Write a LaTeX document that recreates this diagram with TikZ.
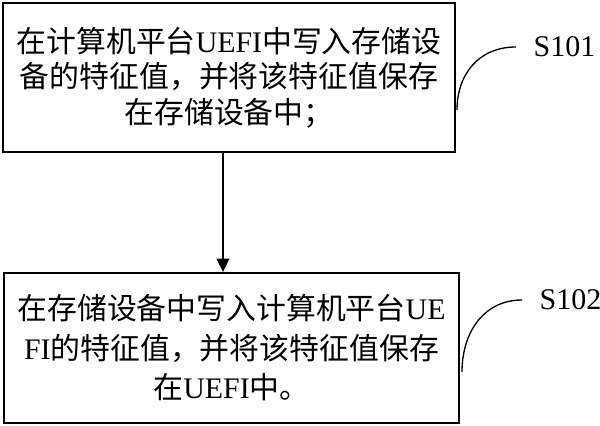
\documentclass[tikz,border=0pt]{standalone}
\usepackage{fontspec}
\setmainfont{Liberation Serif}
\newfontfamily\cjk{Noto Sans CJK SC}
\usetikzlibrary{arrows.meta}

\begin{document}
\begin{tikzpicture}[x=0.75pt,y=-0.75pt]
    \useasboundingbox (0,0) rectangle (600,425);
    \begin{scope}[every node/.style={rectangle,draw,line width=1.5pt,align=center,inner sep=0pt}]%steps
      \node[minimum width=339pt,minimum height=111.75pt,font=\fontsize{22.4}{26.6}\selectfont] (1) at (229,77.5)
        {{\cjk 在计算机平台}UEFI{\cjk 中写入存储设}\\{\cjk 备的特征值，并将该特征值保存}\\{\cjk 在存储设备中；}};
      \node[minimum width=341.25pt,minimum height=112.5pt,font=\fontsize{22.4}{29.6}\selectfont] (2) at (231.5,348)
        {{\cjk 在存储设备中写入计算机平台}UE\\FI{\cjk 的特征值，并将该特征值保存}\\{\cjk 在}UEFI{\cjk 中。}};
    \end{scope}

    \begin{scope}[every node/.style={anchor=west,inner xsep=13pt,inner ysep=0pt,font=\fontsize{22.5}{27}\selectfont}]
      \node (s1) at (516,47) {S101};
      \node (s2) at (522,300) {S102};
    \end{scope}
    \coordinate (t1) at (457,110);
    \coordinate (t2) at (462,372);

    \begin{scope}[>={Triangle[length=10pt,width=9.5pt]},
        every edge/.style={draw=black,line width=1.2pt}]
      \path [->] ([xshift=-4.5pt]1.south) edge ([xshift=-6.4pt]2.north);
      \draw [line width=1pt] (t1) .. controls +(0,-35) and +(-38,0) .. (s1.west);
      \draw [line width=1pt] (t2) .. controls +(0,-40) and +(-38,0) .. (s2.west);
    \end{scope}
  \end{tikzpicture}
\end{document}
